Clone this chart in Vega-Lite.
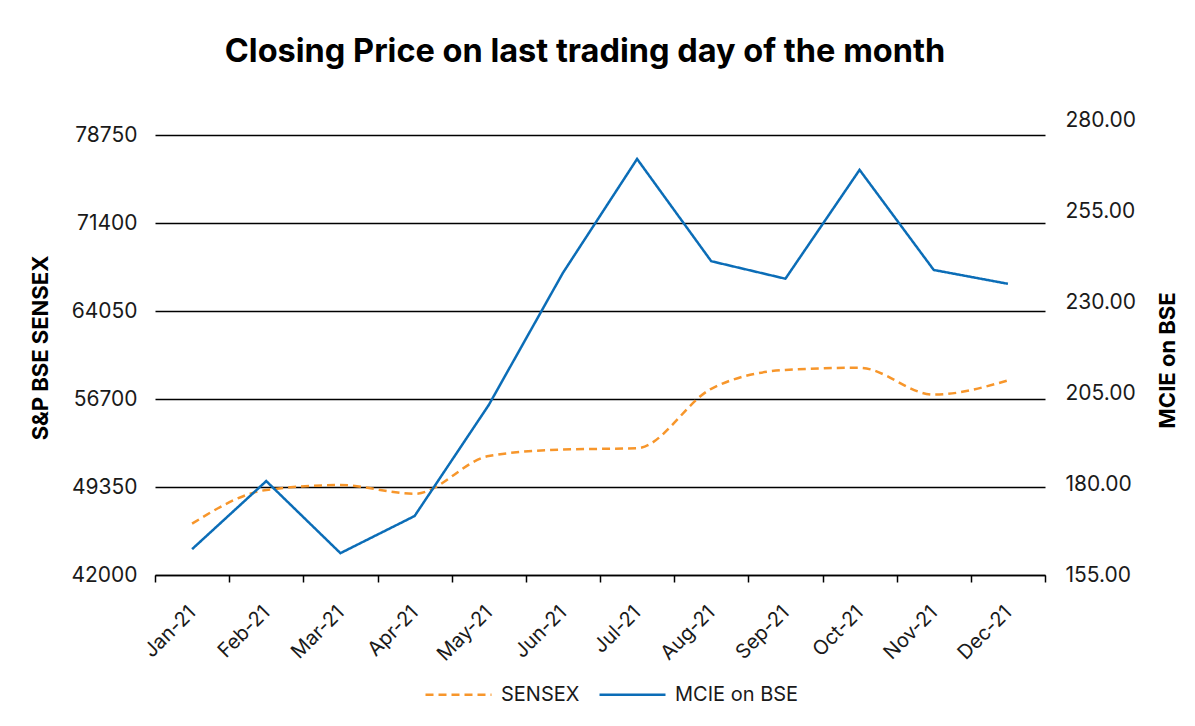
{
  "$schema": "https://vega.github.io/schema/vega-lite/v6.json",
  "autosize": {"type": "none"},
  "width": 890,
  "height": 455,
  "padding": {"left": 155, "top": 120, "right": 150, "bottom": 151},
  "background": "white",
  "title": {
    "text": "Closing Price on last trading day of the month",
    "font": "Inter",
    "fontSize": 32.5,
    "fontWeight": "bold",
    "color": "black",
    "anchor": "middle",
    "frame": "group",
    "dx": -15,
    "offset": 41
  },
  "config": {
    "font": "Inter",
    "view": {"stroke": null},
    "axis": {"labelFont": "Inter", "titleFont": "Inter", "labelColor": "#1a1a1a", "titleColor": "black"},
    "legend": {"labelFont": "Inter"}
  },
  "data": {
    "values": [
      {"month": "Jan-21", "SENSEX": 46286, "MCIE": 162.1},
      {"month": "Feb-21", "SENSEX": 49100, "MCIE": 180.8},
      {"month": "Mar-21", "SENSEX": 49509, "MCIE": 161.0},
      {"month": "Apr-21", "SENSEX": 48782, "MCIE": 171.2},
      {"month": "May-21", "SENSEX": 51937, "MCIE": 201.7},
      {"month": "Jun-21", "SENSEX": 52483, "MCIE": 238.0},
      {"month": "Jul-21", "SENSEX": 52587, "MCIE": 269.3},
      {"month": "Aug-21", "SENSEX": 57552, "MCIE": 241.2},
      {"month": "Sep-21", "SENSEX": 59126, "MCIE": 236.4},
      {"month": "Oct-21", "SENSEX": 59307, "MCIE": 266.3},
      {"month": "Nov-21", "SENSEX": 57065, "MCIE": 238.8},
      {"month": "Dec-21", "SENSEX": 58254, "MCIE": 235.0}
    ]
  },
  "encoding": {
    "x": {
      "field": "month",
      "type": "ordinal",
      "sort": null,
      "bandPosition": 0.5,
      "scale": {"type": "band", "paddingInner": 0, "paddingOuter": 0},
      "axis": {
        "title": null,
        "labelAngle": -45,
        "labelAlign": "right",
        "labelBaseline": "middle",
        "labelFontSize": 20,
        "labelPadding": 27,
        "tickBand": "extent",
        "tickSize": 7,
        "tickColor": "black",
        "tickWidth": 1.5,
        "domainColor": "black",
        "domainWidth": 1.5,
        "grid": false
      }
    }
  },
  "layer": [
    {
      "mark": {"type": "line", "strokeWidth": 2.5, "interpolate": "monotone"},
      "encoding": {
        "y": {
          "field": "SENSEX",
          "type": "quantitative",
          "scale": {"domain": [42000, 80003], "nice": false, "zero": false},
          "axis": {
            "title": "S&P BSE SENSEX",
            "titleFontSize": 22,
            "titleFontWeight": "bold",
            "titlePadding": 18,
            "values": [42000, 49350, 56700, 64050, 71400, 78750],
            "format": "d",
            "labelFontSize": 21,
            "labelPadding": 18,
            "ticks": false,
            "domain": false,
            "grid": true,
            "gridColor": "black",
            "gridWidth": 1.6,
            "gridOpacity": 1
          }
        },
        "color": {
          "datum": "SENSEX",
          "type": "nominal",
          "scale": {"domain": ["SENSEX", "MCIE on BSE"], "range": ["#F7962B", "#0B6DB7"]},
          "legend": {
            "title": null,
            "orient": "none",
            "legendX": 269,
            "legendY": 540,
            "direction": "horizontal",
            "symbolType": "stroke",
            "symbolSize": 4356,
            "symbolStrokeWidth": 2.5,
            "labelFontSize": 20,
            "labelColor": "#1a1a1a",
            "columnPadding": 14,
            "labelOffset": 8
          }
        },
        "strokeDash": {
          "datum": "SENSEX",
          "type": "nominal",
          "scale": {"domain": ["SENSEX", "MCIE on BSE"], "range": [[8, 5], [1, 0]]},
          "legend": {
            "title": null,
            "orient": "none",
            "legendX": 269,
            "legendY": 540,
            "direction": "horizontal",
            "symbolType": "stroke",
            "symbolSize": 4356,
            "symbolStrokeWidth": 2.5,
            "labelFontSize": 20,
            "labelColor": "#1a1a1a",
            "columnPadding": 14,
            "labelOffset": 8
          }
        }
      }
    },
    {
      "mark": {"type": "line", "strokeWidth": 2.5},
      "encoding": {
        "y": {
          "field": "MCIE",
          "type": "quantitative",
          "scale": {"domain": [155, 280], "nice": false, "zero": false},
          "axis": {
            "orient": "right",
            "title": "MCIE on BSE",
            "titleAngle": 270,
            "titleFontSize": 22,
            "titleFontWeight": "bold",
            "titlePadding": 44,
            "titleY": 240,
            "values": [155, 180, 205, 230, 255, 280],
            "format": ".2f",
            "labelFontSize": 21,
            "labelPadding": 20,
            "ticks": false,
            "domain": false,
            "grid": false
          }
        },
        "color": {"datum": "MCIE on BSE", "type": "nominal"},
        "strokeDash": {"datum": "MCIE on BSE", "type": "nominal"}
      }
    }
  ],
  "resolve": {"scale": {"y": "independent"}}
}
